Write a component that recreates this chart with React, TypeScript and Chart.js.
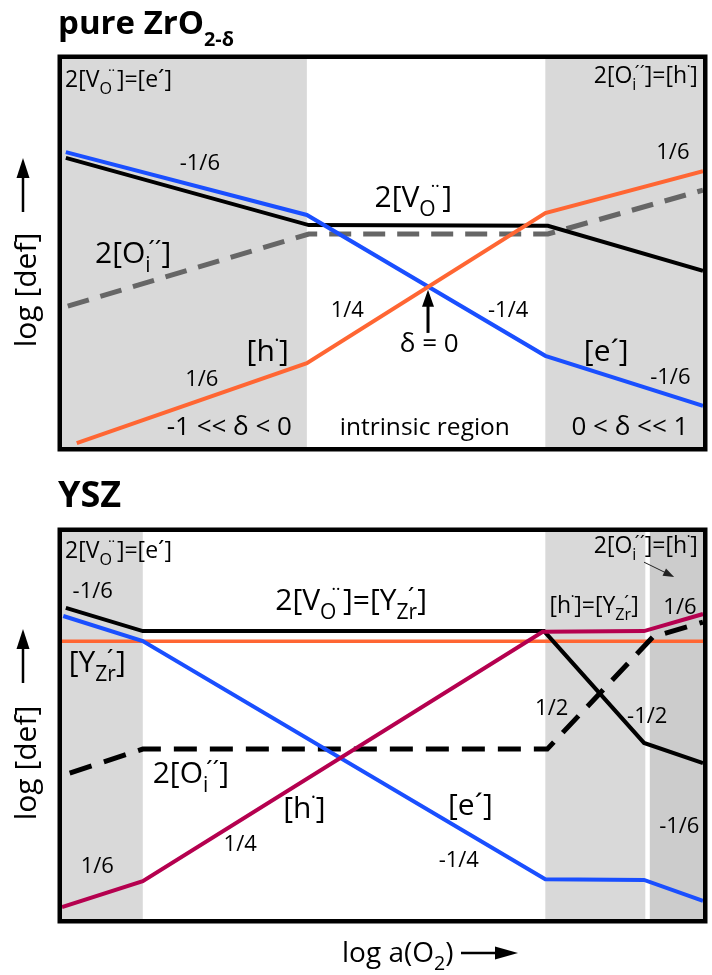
import React, { useEffect, useRef } from "react";
import { Chart, registerables } from "chart.js";

Chart.register(...registerables);

type Pt = [number, number];
type Part = string | { sub?: string; sup?: string };
type Label = { x: number; y: number; parts: Part[]; size: number; align?: "left" | "center" | "right"; mid?: boolean };
type Arrow = { from: Pt; to: Pt; width: number; head: number; headW: number; color: string };

// ---------- pure ZrO2-δ : log [def] vs. log a(O2), relative units ----------
const ZRO2_E: Pt[] = [[0.6, 76.0], [38.2, 59.8], [75.4, 23.5], [100, 10.6]];
const ZRO2_VO: Pt[] = [[0.6, 74.5], [38.5, 57.2], [75.8, 57.0], [100, 45.4]];
const ZRO2_OI: Pt[] = [[0.9, 36.3], [38.5, 54.9], [75.8, 54.9], [100, 66.2]];
const ZRO2_H: Pt[] = [[2.3, 1.0], [38.2, 21.6], [75.4, 60.3], [100, 71.1]];
const ZRO2_SHADED: Pt[] = [[0, 38.2], [75.4, 100]];

// ---------- YSZ ----------
const YSZ_VO: Pt[] = [[0.6, 80.4], [12.6, 74.4], [75.2, 74.4], [90.8, 45.5], [100, 40.3]];
const YSZ_Y: Pt[] = [[0, 71.8], [100, 71.8]];
const YSZ_E: Pt[] = [[0.2, 78.3], [12.6, 71.8], [75.4, 10.3], [90.8, 10.1], [100, 4.7]];
const YSZ_H: Pt[] = [[0, 3.1], [12.6, 9.8], [75.0, 74.2], [90.8, 74.4], [100, 78.8]];
const YSZ_OI: Pt[] = [[1.2, 37.7], [12.6, 43.9], [75.7, 43.9], [92.2, 72.9], [100, 76.7]];
const YSZ_SHADED: Pt[] = [[0, 12.6], [75.4, 91.0]];
const YSZ_SHADED_DARK: Pt[] = [[91.7, 100]];

const TOP_LABELS: Label[] = [
  { x: 0.47, y: 92.8, parts: ["2[V", { sub: "O", sup: "¨" }, "]=[e´]"], size: 23, align: "left" },
  { x: 99.2, y: 93.8, parts: ["2[O", { sub: "i", sup: "´´" }, "]=[h", { sup: "˙" }, "]"], size: 23, align: "right" },
  { x: 21.5, y: 73.5, parts: ["-1/6"], size: 22, mid: true },
  { x: 95.3, y: 76.3, parts: ["1/6"], size: 22, mid: true },
  { x: 54.8, y: 61.9, parts: ["2[V", { sub: "O", sup: "¨" }, "]"], size: 30 },
  { x: 11.1, y: 47.4, parts: ["2[O", { sub: "i", sup: "´´" }, "]"], size: 30 },
  { x: 32.1, y: 22.2, parts: ["[h", { sup: "˙" }, "]"], size: 30 },
  { x: 21.8, y: 17.8, parts: ["1/6"], size: 22, mid: true },
  { x: 26.1, y: 5.4, parts: ["-1 << δ < 0"], size: 26, mid: true },
  { x: 56.6, y: 5.4, parts: ["intrinsic region"], size: 24.5, mid: true },
  { x: 57.3, y: 26.8, parts: ["δ = 0"], size: 26, mid: true },
  { x: 44.5, y: 35.6, parts: ["1/4"], size: 22, mid: true },
  { x: 69.6, y: 35.6, parts: ["-1/4"], size: 22, mid: true },
  { x: 84.9, y: 22.2, parts: ["[e´]"], size: 30 },
  { x: 94.9, y: 18.3, parts: ["-1/6"], size: 22, mid: true },
  { x: 88.6, y: 5.4, parts: ["0 < δ << 1"], size: 26, mid: true },
];
const TOP_ARROWS: Arrow[] = [{ from: [57.1, 29.4], to: [57.1, 40.5], width: 3, head: 17, headW: 12, color: "#000" }];

const BOTTOM_LABELS: Label[] = [
  { x: 0.47, y: 93.3, parts: ["2[V", { sub: "O", sup: "¨" }, "]=[e´]"], size: 23, align: "left" },
  { x: 4.8, y: 85.0, parts: ["-1/6"], size: 22, mid: true },
  { x: 5.5, y: 63.8, parts: ["[Y", { sub: "Zr", sup: "´" }, "]"], size: 30 },
  { x: 45.1, y: 79.8, parts: ["2[V", { sub: "O", sup: "¨" }, "]=[Y", { sub: "Zr", sup: "´" }, "]"], size: 30 },
  { x: 99.2, y: 94.6, parts: ["2[O", { sub: "i", sup: "´´" }, "]=[h", { sup: "˙" }, "]"], size: 23, align: "right" },
  { x: 83.0, y: 79.1, parts: ["[h", { sup: "˙" }, "]=[Y", { sub: "Zr", sup: "´" }, "]"], size: 23 },
  { x: 96.4, y: 80.9, parts: ["1/6"], size: 22, mid: true },
  { x: 76.4, y: 54.8, parts: ["1/2"], size: 22, mid: true },
  { x: 91.3, y: 52.7, parts: ["-1/2"], size: 22, mid: true },
  { x: 96.3, y: 24.3, parts: ["-1/6"], size: 22, mid: true },
  { x: 20.1, y: 35.1, parts: ["2[O", { sub: "i", sup: "´´" }, "]"], size: 30 },
  { x: 37.8, y: 26.1, parts: ["[h", { sup: "˙" }, "]"], size: 30 },
  { x: 27.8, y: 19.6, parts: ["1/4"], size: 22, mid: true },
  { x: 5.5, y: 14.0, parts: ["1/6"], size: 22, mid: true },
  { x: 63.7, y: 26.9, parts: ["[e´]"], size: 30 },
  { x: 61.9, y: 15.5, parts: ["-1/4"], size: 22, mid: true },
];
const BOTTOM_ARROWS: Arrow[] = [{ from: [90.8, 92.2], to: [95.5, 88.4], width: 1, head: 11, headW: 8, color: "#222" }];

const FONT = '"Open Sans", "Noto Sans", "DejaVu Sans", sans-serif';
const font = (s: number, bold = false) => `${bold ? "bold " : ""}${s}px ${FONT}`;

function partMetrics(ctx: CanvasRenderingContext2D, p: { sub?: string; sup?: string }, size: number, bold: boolean, subScale: number) {
  ctx.font = font(size * subScale, bold);
  const a = p.sub ? ctx.measureText(p.sub).width : 0;
  ctx.font = font(size * 0.8, bold);
  const b = p.sup ? ctx.measureText(p.sup).width : 0;
  const supX = p.sub ? a * 0.55 : 0;
  return { a, b, supX, adv: Math.max(a, supX + b) };
}

function richWidth(ctx: CanvasRenderingContext2D, parts: Part[], size: number, bold: boolean, subScale: number) {
  let w = 0;
  for (const p of parts) {
    if (typeof p === "string") {
      ctx.font = font(size, bold);
      w += ctx.measureText(p).width;
    } else {
      w += partMetrics(ctx, p, size, bold, subScale).adv;
    }
  }
  return w;
}

function drawRich(
  ctx: CanvasRenderingContext2D, parts: Part[], x: number, y: number, size: number,
  align: "left" | "center" | "right" = "center", bold = false, subScale = 0.7, subDy = 0.3
) {
  const w = richWidth(ctx, parts, size, bold, subScale);
  let cx = align === "left" ? x : align === "right" ? x - w : x - w / 2;
  ctx.textAlign = "left";
  ctx.textBaseline = "alphabetic";
  for (const p of parts) {
    if (typeof p === "string") {
      ctx.font = font(size, bold);
      ctx.fillText(p, cx, y);
      cx += ctx.measureText(p).width;
    } else {
      const m = partMetrics(ctx, p, size, bold, subScale);
      if (p.sub) {
        ctx.font = font(size * subScale, bold);
        ctx.fillText(p.sub, cx, y + size * subDy);
      }
      if (p.sup) {
        ctx.font = font(size * 0.8, bold);
        ctx.fillText(p.sup, cx + m.supX, y - size * 0.16);
      }
      cx += m.adv;
    }
  }
}

function drawArrow(ctx: CanvasRenderingContext2D, x1: number, y1: number, x2: number, y2: number, lw: number, head: number, headW: number, color: string) {
  const ang = Math.atan2(y2 - y1, x2 - x1);
  const bx = x2 - head * Math.cos(ang);
  const by = y2 - head * Math.sin(ang);
  ctx.save();
  ctx.strokeStyle = color;
  ctx.fillStyle = color;
  ctx.lineWidth = lw;
  ctx.beginPath();
  ctx.moveTo(x1, y1);
  ctx.lineTo(bx + Math.cos(ang) * 2, by + Math.sin(ang) * 2);
  ctx.stroke();
  ctx.beginPath();
  ctx.moveTo(x2, y2);
  ctx.lineTo(bx + (headW / 2) * Math.sin(ang), by - (headW / 2) * Math.cos(ang));
  ctx.lineTo(bx - (headW / 2) * Math.sin(ang), by + (headW / 2) * Math.cos(ang));
  ctx.closePath();
  ctx.fill();
  ctx.restore();
}

type Series = { pts: Pt[]; color: string; width: number; dash?: number[] };
type Band = { ranges: Pt[]; color: string };

type DiagramProps = {
  top: number;
  height: number;
  padding: { left: number; top: number; right: number; bottom: number };
  series: Series[];
  bands: Band[];
  labels: Label[];
  arrows: Arrow[];
  decorate: (ctx: CanvasRenderingContext2D) => void;
};

function Diagram({ top, height, padding, series, bands, labels, arrows, decorate }: DiagramProps) {
  const ref = useRef<HTMLCanvasElement>(null);
  useEffect(() => {
    const canvas = ref.current;
    if (!canvas) return;
    const plugin = {
      id: "decor",
      beforeDatasetsDraw(chart: any) {
        const { ctx, chartArea: a } = chart;
        const xs = chart.scales.x;
        ctx.save();
        for (const b of bands) {
          ctx.fillStyle = b.color;
          for (const [x0, x1] of b.ranges) {
            const p0 = xs.getPixelForValue(x0);
            const p1 = xs.getPixelForValue(x1);
            ctx.fillRect(p0, a.top, p1 - p0, a.bottom - a.top);
          }
        }
        ctx.restore();
      },
      afterDatasetsDraw(chart: any) {
        const { ctx, chartArea: a } = chart;
        const xs = chart.scales.x;
        const ys = chart.scales.y;
        ctx.save();
        ctx.fillStyle = "#000";
        for (const l of labels) {
          const px = xs.getPixelForValue(l.x);
          let py = ys.getPixelForValue(l.y);
          if (l.mid) py += l.size * 0.36;
          drawRich(ctx, l.parts, px, py, l.size, l.align || "center");
        }
        for (const ar of arrows) {
          drawArrow(ctx, xs.getPixelForValue(ar.from[0]), ys.getPixelForValue(ar.from[1]),
            xs.getPixelForValue(ar.to[0]), ys.getPixelForValue(ar.to[1]), ar.width, ar.head, ar.headW, ar.color);
        }
        const lw = 4.5;
        ctx.strokeStyle = "#000";
        ctx.lineWidth = lw;
        ctx.strokeRect(a.left - lw / 2, a.top - lw / 2, a.right - a.left + lw, a.bottom - a.top + lw);
        decorate(ctx);
        ctx.restore();
      },
    };
    const chart = new Chart(canvas, {
      type: "line",
      data: {
        datasets: series.map((s) => ({
          data: s.pts.map(([x, y]) => ({ x, y })),
          borderColor: s.color,
          borderWidth: s.width,
          borderDash: s.dash || [],
          borderCapStyle: "butt",
          borderJoinStyle: "miter",
          pointRadius: 0,
          fill: false,
          tension: 0,
        })),
      },
      options: {
        animation: false,
        responsive: false,
        devicePixelRatio: 1,
        events: [],
        layout: { padding },
        plugins: { legend: { display: false }, tooltip: { enabled: false }, title: { display: false } },
        scales: {
          x: { type: "linear", min: 0, max: 100, display: false },
          y: { type: "linear", min: 0, max: 100, display: false },
        },
      },
      plugins: [plugin],
    } as any);
    return () => chart.destroy();
  }, []);
  return (
    <canvas
      ref={ref}
      width={712}
      height={height}
      style={{ position: "absolute", left: 0, top, width: 712, height, display: "block" }}
    />
  );
}

const BLUE = "#1a4fff";
const ORANGE = "#ff6633";
const CRIMSON = "#b5004f";
const GRAY = "#666666";
const SHADE = "#d9d9d9";
const SHADE_DARK = "#cccccc";

function yAxisLabel(ctx: CanvasRenderingContext2D, cy: number, arrowTail: number, arrowTip: number) {
  ctx.save();
  ctx.translate(27, cy);
  ctx.rotate(-Math.PI / 2);
  ctx.font = font(30);
  ctx.textAlign = "center";
  ctx.textBaseline = "middle";
  ctx.fillStyle = "#000";
  ctx.fillText("log [def]", 0, 0);
  ctx.restore();
  drawArrow(ctx, 23, arrowTail, 23, arrowTip, 2.5, 20, 13, "#000");
}

export default function App() {
  return (
    <div style={{ position: "absolute", left: 0, top: 0, width: 712, height: 975, background: "#fff" }}>
      <Diagram
        top={0}
        height={480}
        padding={{ left: 62, top: 59, right: 9, bottom: 33 }}
        series={[
          { pts: ZRO2_H, color: ORANGE, width: 4 },
          { pts: ZRO2_E, color: BLUE, width: 4 },
          { pts: ZRO2_VO, color: "#000", width: 4 },
          { pts: ZRO2_OI, color: GRAY, width: 5, dash: [22, 12] },
        ]}
        bands={[{ ranges: ZRO2_SHADED, color: SHADE }]}
        labels={TOP_LABELS}
        arrows={TOP_ARROWS}
        decorate={(ctx) => {
          ctx.fillStyle = "#000";
          drawRich(ctx, ["pure ZrO", { sub: "2-δ" }], 58, 34, 33, "left", true, 0.6, 0.36);
          yAxisLabel(ctx, 290, 212, 158);
        }}
      />
      <Diagram
        top={480}
        height={495}
        padding={{ left: 62, top: 52, right: 9, bottom: 56 }}
        series={[
          { pts: YSZ_H, color: CRIMSON, width: 4 },
          { pts: YSZ_E, color: BLUE, width: 4 },
          { pts: YSZ_OI, color: "#000", width: 5, dash: [23, 13] },
          { pts: YSZ_VO, color: "#000", width: 4 },
          { pts: YSZ_Y, color: ORANGE, width: 3.5 },
        ]}
        bands={[
          { ranges: YSZ_SHADED, color: SHADE },
          { ranges: YSZ_SHADED_DARK, color: SHADE_DARK },
        ]}
        labels={BOTTOM_LABELS}
        arrows={BOTTOM_ARROWS}
        decorate={(ctx) => {
          ctx.fillStyle = "#000";
          drawRich(ctx, ["YSZ"], 58, 27, 36, "left", true);
          yAxisLabel(ctx, 283, 203, 149);
          drawRich(ctx, ["log a(O", { sub: "2" }, ")"], 342, 482, 28, "left");
          drawArrow(ctx, 461, 473, 518, 473, 2.5, 23, 13, "#000");
        }}
      />
    </div>
  );
}
